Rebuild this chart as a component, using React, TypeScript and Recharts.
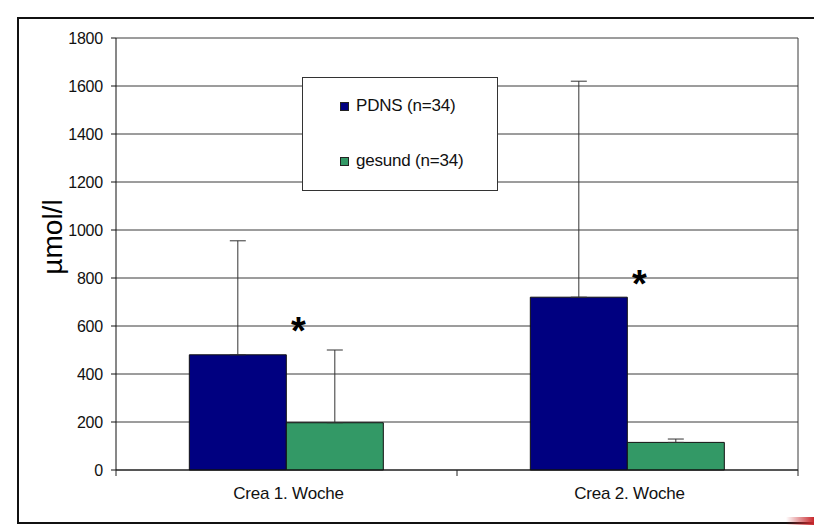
import React from 'react';
import { BarChart, Bar, XAxis, YAxis, CartesianGrid, ErrorBar, ReferenceDot } from 'recharts';

const categories = ['Crea 1. Woche', 'Crea 2. Woche'];
const pdnsMean = [480, 720];
const pdnsSd = [475, 900];
const gesundMean = [197, 115];
const gesundSd = [303, 14];
const starValues = [575, 770];
const yTicks = [0, 200, 400, 600, 800, 1000, 1200, 1400, 1600, 1800];

const seriesNames = { pdns: 'PDNS (n=34)', gesund: 'gesund (n=34)' };
const colors = { pdns: '#000080', gesund: '#339966' };

const data = categories.map((name, i) => ({
  name,
  pdns: pdnsMean[i],
  pdnsErr: [0, pdnsSd[i]],
  gesund: gesundMean[i],
  gesundErr: [0, gesundSd[i]],
}));

const W = 814;
const H = 525;
const margin = { top: 38, right: 16, left: 20, bottom: 25 };
const yAxisWidth = 96;
const plotWidth = W - margin.left - yAxisWidth - margin.right;
const band = plotWidth / categories.length;
const font = '"Liberation Sans", Arial, sans-serif';

function XTick(props: any) {
  const { x, y, payload, index } = props;
  return (
    <g>
      <line x1={x - band / 2} x2={x - band / 2} y1={y - 8} y2={y - 2} stroke="#222" />
      {index === categories.length - 1 && (
        <line x1={x + band / 2} x2={x + band / 2} y1={y - 8} y2={y - 2} stroke="#222" />
      )}
      <text x={x + 2} y={y + 21} textAnchor="middle" fontSize={17} fontFamily={font} fill="#111" letterSpacing={-0.2}>
        {payload.value}
      </text>
    </g>
  );
}

function YLabel(props: any) {
  const { viewBox } = props;
  const cx = 52;
  const cy = viewBox.y + viewBox.height / 2 - 17;
  return (
    <text
      x={cx}
      y={cy}
      transform={`rotate(-90, ${cx}, ${cy})`}
      textAnchor="middle"
      dominantBaseline="central"
      fontSize={28}
      fontFamily={font}
      fill="#000"
    >
      µmol/l
    </text>
  );
}

function LegendBox() {
  const items = [
    { key: 'pdns', label: seriesNames.pdns, color: colors.pdns },
    { key: 'gesund', label: seriesNames.gesund, color: colors.gesund },
  ];
  return (
    <div style={{ position: 'absolute', left: 302, top: 77, width: 196, height: 114, border: '1px solid #333', background: '#fff', boxSizing: 'border-box', paddingTop: 18, paddingLeft: 37, fontFamily: font, fontSize: 17, color: '#111' }}>
      {items.map((it, i) => (
        <div key={it.key} style={{ display: 'flex', alignItems: 'center', height: 20, marginBottom: i === 0 ? 35 : 0, letterSpacing: -0.2 }}>
          <span style={{ display: 'inline-block', width: 7, height: 7, background: it.color, border: '1px solid #222', marginRight: 7 }} />
          {it.label}
        </div>
      ))}
    </div>
  );
}

function Star(props: any) {
  const { cx, cy } = props;
  return (
    <text x={cx + 12} y={cy + 12} textAnchor="middle" fontSize={38} fontWeight="bold" fontFamily={font} fill="#000">
      *
    </text>
  );
}

export default function App() {
  return (
    <div style={{ position: 'absolute', left: 0, top: 0, width: W, height: H, overflow: 'hidden', background: '#fff' }}>
      <div style={{ position: 'absolute', left: 17, top: 17, width: 900, height: 503, borderTop: '2px solid #111', borderLeft: '2px solid #111', borderBottom: '2px solid #111' }} />
      <div style={{ position: 'absolute', left: 786, top: 517, width: 28, height: 8, background: 'linear-gradient(to right, rgba(200,40,40,0), #c8282d)' }} />
      <BarChart
        width={W}
        height={H}
        data={data}
        margin={margin}
        barCategoryGap="21.5%"
        barGap={0}
        style={{ position: 'absolute', left: 0, top: 0 }}
      >
        <CartesianGrid
          stroke="#3a3a3a"
          vertical={true}
          verticalCoordinatesGenerator={({ offset }: any) => [offset.left + offset.width]}
        />
        <XAxis dataKey="name" axisLine={{ stroke: '#111' }} tickLine={false} tick={<XTick />} height={30} interval={0} />
        <YAxis
          domain={[0, 1800]}
          ticks={yTicks}
          interval={0}
          width={yAxisWidth}
          axisLine={{ stroke: '#111' }}
          tickLine={{ stroke: '#111' }}
          tickSize={5}
          tickMargin={8}
          tick={{ fontSize: 16, fontFamily: font, fill: '#111', letterSpacing: -0.2 }}
          label={<YLabel />}
        />
        <Bar dataKey="pdns" name={seriesNames.pdns} fill={colors.pdns} stroke="#111" strokeWidth={1} isAnimationActive={false}>
          <ErrorBar dataKey="pdnsErr" width={8} stroke="#333" strokeWidth={1} direction="y" />
        </Bar>
        <Bar dataKey="gesund" name={seriesNames.gesund} fill={colors.gesund} stroke="#111" strokeWidth={1} isAnimationActive={false}>
          <ErrorBar dataKey="gesundErr" width={8} stroke="#333" strokeWidth={1} direction="y" />
        </Bar>
        {categories.map((c, i) => (
          <ReferenceDot key={c} x={c} y={starValues[i]} r={0} shape={<Star />} ifOverflow="visible" />
        ))}
      </BarChart>
      <LegendBox />
    </div>
  );
}
